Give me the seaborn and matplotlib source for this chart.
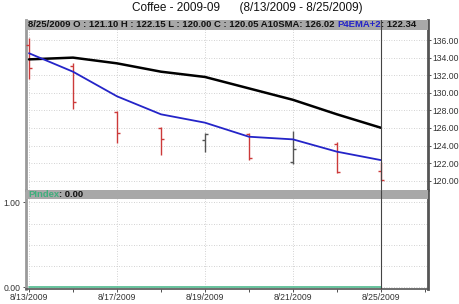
import matplotlib
matplotlib.use("Agg")
import matplotlib.pyplot as plt
from matplotlib.patches import Rectangle
import seaborn as sns
import pandas as pd
import numpy as np

dates = ['8/13/2009', '8/14/2009', '8/17/2009', '8/18/2009', '8/19/2009',
         '8/20/2009', '8/21/2009', '8/24/2009', '8/25/2009']
open_ = [135.4, 133.0, 127.8, 126.0, 124.6, 125.3, 122.1, 124.2, 121.10]
high = [136.2, 133.4, 127.95, 126.1, 125.4, 125.45, 125.6, 124.4, 122.15]
low = [131.6, 128.1, 124.25, 122.9, 123.3, 122.4, 121.95, 120.9, 120.00]
close = [132.8, 128.9, 125.4, 124.7, 125.3, 122.6, 123.6, 121.0, 120.05]
sma10 = [133.8, 134.0, 133.35, 132.4, 131.8, 130.5, 129.2, 127.55, 126.02]
ema4 = [134.5, 132.4, 129.6, 127.55, 126.6, 125.0, 124.7, 123.3, 122.34]
pindex = [0, 0, 0, 0, 0, 0, 0, 0, 0]
price_ticks = [120, 122, 124, 126, 128, 130, 132, 134, 136]
pindex_ticks = [0.0, 1.0]
label_idx = [0, 2, 4, 6, 8]

sns.set_style("white")
plt.rcParams['font.family'] = ['Liberation Sans', 'DejaVu Sans']

df = pd.DataFrame({'i': np.arange(len(dates)), 'date': dates, 'open': open_,
                   'high': high, 'low': low, 'close': close,
                   'sma': sma10, 'ema': ema4, 'pindex': pindex})

W, H = 460, 304
fig = plt.figure(figsize=(W / 100, H / 100), dpi=100)
L, R = 26 / W, 428 / W
ax1 = fig.add_axes([L, 1 - 190 / H, R - L, 170 / H])
ax2 = fig.add_axes([L, 1 - 289 / H, R - L, 99 / H], sharex=ax1)

red = '#cc3a3a'
gray = '#555555'
green = '#3fae7c'

# OHLC bars
for _, r in df.iterrows():
    c = red if r['close'] < r['open'] else gray
    ax1.vlines(r['i'], r['low'], r['high'], color=c, lw=1.0, zorder=3)
    ax1.hlines(r['open'], r['i'] - 0.07, r['i'], color=c, lw=1.0, zorder=3)
    ax1.hlines(r['close'], r['i'], r['i'] + 0.07, color=c, lw=1.0, zorder=3)

sns.lineplot(data=df, x='i', y='sma', ax=ax1, color='black', lw=1.8, zorder=4)
sns.lineplot(data=df, x='i', y='ema', ax=ax1, color='#2424c8', lw=1.3, zorder=4)
sns.lineplot(data=df, x='i', y='pindex', ax=ax2, color='#5cbf96', lw=1.3, zorder=4)

ax1.set_xlim(-0.068, 9.07)
ax1.set_ylim(118.94, 138.28)
ax2.set_ylim(-0.02, 1.145)

for ax in (ax1, ax2):
    ax.set_xlabel('')
    ax.set_ylabel('')
    for s in ax.spines.values():
        s.set_color('#555555')
        s.set_linewidth(1.2)
    ax.spines['left'].set_color('#9a9a9a')
    ax.spines['left'].set_linewidth(2.0)
    ax.spines['right'].set_linewidth(2.0)
    ax.spines['top'].set_visible(False)
    ax.axvline(8, color='#444444', lw=0.8, zorder=10)
    for xi in label_idx:
        ax.axvline(xi, color='#c4c4c4', lw=0.6, ls=(0, (1, 2)), zorder=1)

ax1.spines['bottom'].set_visible(False)

# top panel ticks
ax1.yaxis.tick_right()
ax1.set_yticks(price_ticks)
ax1.set_yticklabels([f'{v:.2f}' for v in price_ticks])
ax1.tick_params(axis='y', labelsize=6.2, colors='#333333', length=2, width=0.6, pad=1.5)
ax1.tick_params(axis='x', bottom=False, labelbottom=False)
for v in price_ticks:
    ax1.axhline(v, color='#c4c4c4', lw=0.6, ls=(0, (1, 2)), zorder=1)

# lower panel ticks
ax2.set_yticks(pindex_ticks)
ax2.set_yticklabels([f'{v:.2f}' for v in pindex_ticks])
ax2.tick_params(axis='y', labelsize=6.2, colors='#333333', length=2, width=0.6, pad=2, left=True)
for v in [0, 0.25, 0.5, 0.75, 1.0]:
    ax2.axhline(v, color='#c4c4c4', lw=0.6, ls=(0, (1, 2)), zorder=1)
ax2.set_xticks(label_idx)
ax2.set_xticklabels([dates[i] for i in label_idx])
ax2.set_xticks([1, 3, 5, 7, 9], minor=True)
ax2.tick_params(axis='x', which='both', labelsize=6.2, colors='#333333', length=2, width=0.6, pad=1, bottom=True)

# header bars
ax1.add_patch(Rectangle((0, 1 - 9.5 / 170), 1, 9.5 / 170, transform=ax1.transAxes,
                        facecolor='#a8a8a8', edgecolor='none', zorder=8, clip_on=False))
t1 = ax1.text(0.005, 1 - 4.8 / 170,
              '8/25/2009 O : 121.10 H : 122.15 L : 120.00 C : 120.05 A10SMA: 126.02 ',
              transform=ax1.transAxes, fontsize=6.8, fontweight='bold', color='#111111',
              va='center', ha='left', zorder=9)
t2 = ax1.annotate('P4EMA+2', xy=(1, 0.5), xycoords=t1, va='center', ha='left',
                  fontsize=6.8, fontweight='bold', color='#2424c8', zorder=9)
ax1.annotate(': 122.34', xy=(1, 0.5), xycoords=t2, va='center', ha='left',
             fontsize=6.8, fontweight='bold', color='#111111', zorder=9)

ax2.add_patch(Rectangle((0, 1 - 9.0 / 99), 1, 9.0 / 99, transform=ax2.transAxes,
                        facecolor='#a8a8a8', edgecolor='none', zorder=8, clip_on=False))
p1 = ax2.text(0.005, 1 - 4.5 / 99, 'PIndex', transform=ax2.transAxes, fontsize=6.8,
              fontweight='bold', color=green, va='center', ha='left', zorder=9)
ax2.annotate(': 0.00', xy=(1, 0.5), xycoords=p1, va='center', ha='left',
             fontsize=6.8, fontweight='bold', color='#111111', zorder=9)

fig.text(247 / W, 1 - 8 / H, 'Coffee - 2009-09      (8/13/2009 - 8/25/2009)',
         ha='center', va='center', fontsize=8.5, color='#111111')

fig.savefig('out.png', dpi=100)
